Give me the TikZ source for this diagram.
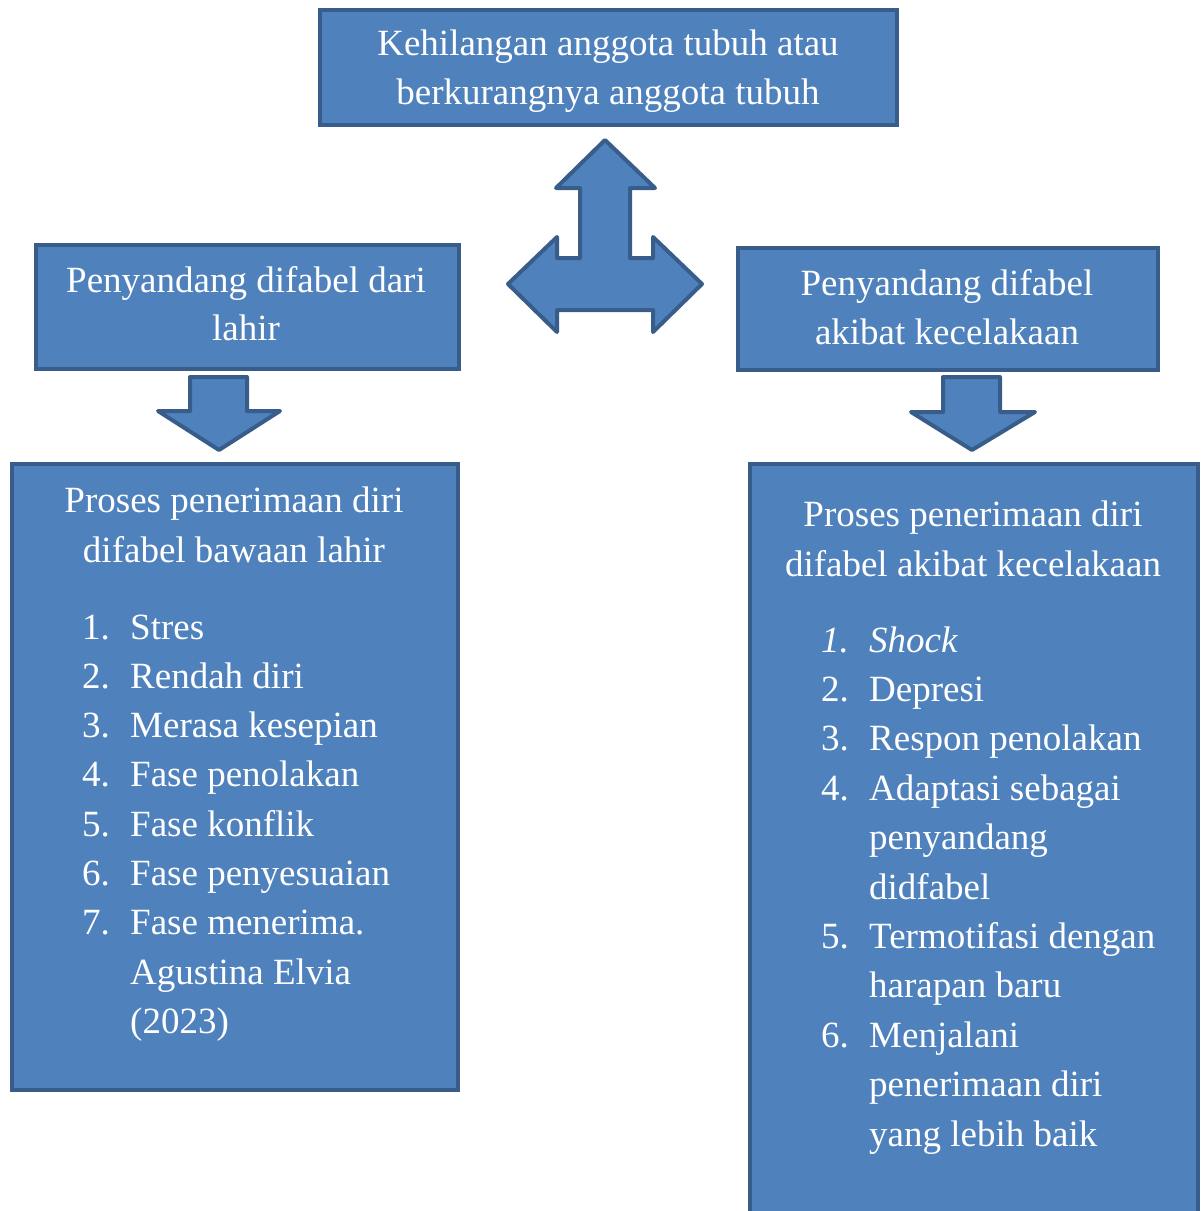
\documentclass[tikz,border=0pt]{standalone}
\usepackage{fontspec}
\setmainfont{Liberation Serif}
\usepackage{tikz}
\usetikzlibrary{positioning}

\definecolor{boxfill}{HTML}{4F81BD}
\definecolor{boxline}{HTML}{385D8A}

\tikzset{
  box/.style={draw=boxline, fill=boxfill, line width=4pt, rectangle, inner sep=0pt, outer sep=0pt},
  txt/.style={text=white, inner sep=0pt, font=\fontsize{37}{49}\selectfont},
  blockarrow/.style={draw=boxline, fill=boxfill, line width=4pt, line join=round},
}

\begin{document}
\begin{tikzpicture}[x=1pt, y=-1pt]
	\useasboundingbox (0,0) rectangle (1204,1211);
	\clip (0,0) rectangle (1204,1211);

	% boxes
	\node[box, minimum width=577pt, minimum height=115pt] (top) at (608.5,67.5) {};
	\node[box, minimum width=423pt, minimum height=124pt] (lahir) at (247.5,307) {};
	\node[box, minimum width=420pt, minimum height=122pt] (celaka) at (948,309) {};
	\node[box, minimum width=446.5pt, minimum height=626pt] (prosesl) at (234.75,777) {};
	\node[box, minimum width=448pt, minimum height=796pt] (prosesr) at (974,862) {};

	% block arrows
	\draw[blockarrow] (605,140) -- (655,188) -- (630,188) -- (630,258) -- (653,258) -- (653,237)
		-- (702,284) -- (653,332) -- (653,310) -- (557,310) -- (557,332) -- (508,284)
		-- (557,237) -- (557,258) -- (580,258) -- (580,188) -- (556,188) -- cycle;
	\draw[blockarrow] (190,377) -- (247,377) -- (247,411) -- (280,411) -- (219,450)
		-- (158,411) -- (190,411) -- cycle;
	\draw[blockarrow] (943,377) -- (1000,377) -- (1000,412) -- (1035,412) -- (972,450)
		-- (911,412) -- (943,412) -- cycle;

	% titles
	\node[txt, anchor=base] (top1) at (608,55) {Kehilangan anggota tubuh atau};
	\node[txt, anchor=base] (top2) at (608,104) {berkurangnya anggota tubuh};
	\node[txt, anchor=base] (lahir1) at (246,292) {Penyandang difabel dari};
	\node[txt, anchor=base] (lahir2) at (246,340) {lahir};
	\node[txt, anchor=base] (celaka1) at (947,295) {Penyandang difabel};
	\node[txt, anchor=base] (celaka2) at (947,344) {akibat kecelakaan};
	\node[txt, anchor=base] (prosesl1) at (234,512) {Proses penerimaan diri};
	\node[txt, anchor=base] (prosesl2) at (234,562) {difabel bawaan lahir};
	\node[txt, anchor=base] (prosesr1) at (973,526) {Proses penerimaan diri};
	\node[txt, anchor=base] (prosesr2) at (973,576) {difabel akibat kecelakaan};

	% lists
	\foreach \n/\t [count=\i from 0] in {1./Stres, 2./Rendah diri, 3./Merasa kesepian,
		4./Fase penolakan, 5./Fase konflik, 6./Fase penyesuaian, 7./Fase menerima.,
		/Agustina Elvia, /(2023)} {
		\node[txt, anchor=base west] (ln\i) at (82,639+49.3*\i) {\n};
		\node[txt, anchor=base west] (lt\i) at (130,639+49.3*\i) {\t};
	}
	\foreach \n/\t [count=\i from 0] in {{\textit{1.}}/{\textit{Shock}}, 2./Depresi,
		3./Respon penolakan, 4./Adaptasi sebagai, /penyandang, /didfabel,
		5./Termotifasi dengan, /harapan baru, 6./Menjalani, /penerimaan diri,
		/yang lebih baik} {
		\node[txt, anchor=base west] (rn\i) at (821,652+49.4*\i) {\n};
		\node[txt, anchor=base west] (rt\i) at (869,652+49.4*\i) {\t};
	}

\end{tikzpicture}
\end{document}
